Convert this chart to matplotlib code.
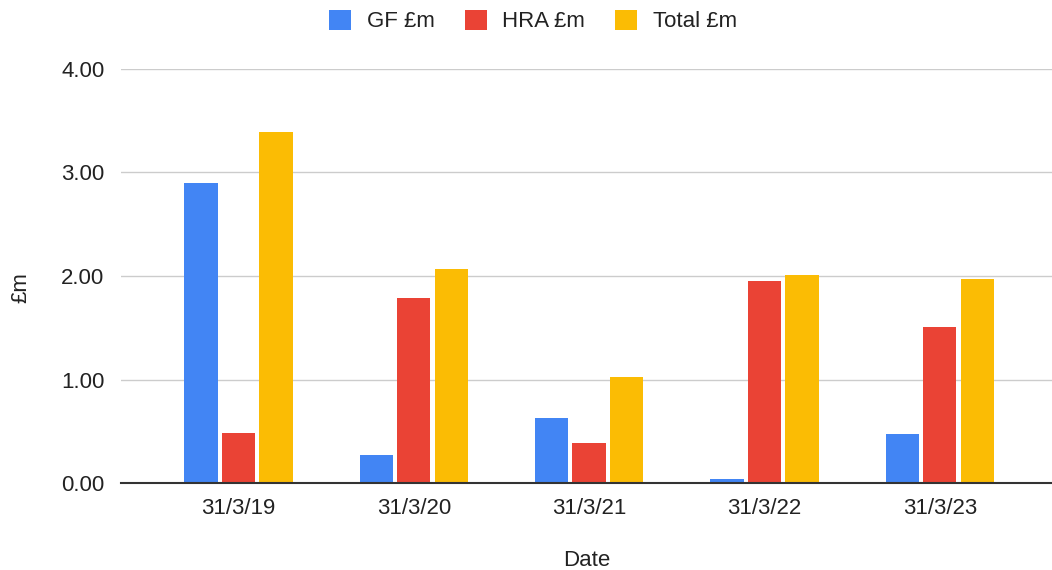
import matplotlib
matplotlib.use("Agg")
import matplotlib.pyplot as plt
import numpy as np

plt.rcParams['font.family'] = ['Liberation Sans', 'DejaVu Sans']

categories = ["31/3/19", "31/3/20", "31/3/21", "31/3/22", "31/3/23"]
gf = [2.90, 0.27, 0.63, 0.04, 0.47]
hra = [0.48, 1.79, 0.39, 1.95, 1.51]
total = [3.39, 2.07, 1.02, 2.01, 1.97]
series_names = ["GF £m", "HRA £m", "Total £m"]
colors = ["#4285F4", "#EA4335", "#FBBC04"]
yticks = [0, 1, 2, 3, 4]

fs = 16
fig = plt.figure(figsize=(10.52, 5.70), dpi=100)
ax = fig.add_axes([121/1052, 1-483/570, 1-121/1052, (483-69)/570])

x = np.arange(len(categories))
w = 0.19
pitch = 0.214
for i, (vals, name, c) in enumerate(zip([gf, hra, total], series_names, colors)):
    ax.bar(x + (i-1)*pitch, vals, width=w, color=c, label=name, zorder=3)

ax.set_xlim(-0.67, 4.64)
ax.set_ylim(0, 4)
ax.set_yticks(yticks)
ax.set_yticklabels([f"{v:.2f}" for v in yticks])
ax.set_xticks(x)
ax.set_xticklabels(categories)
ax.yaxis.grid(True, color="#cccccc", linewidth=1, zorder=0)
ax.tick_params(axis='both', length=0, labelsize=fs, colors="#222222")
ax.tick_params(axis='y', pad=12)
ax.tick_params(axis='x', pad=11)
for s in ["top", "right", "left"]:
    ax.spines[s].set_visible(False)
ax.spines["bottom"].set_color("#333333")
ax.spines["bottom"].set_linewidth(1.5)
ax.spines["bottom"].set_zorder(4)

ax.set_ylabel("£m", fontsize=fs, color="#222222")
ax.set_xlabel("Date", fontsize=fs, color="#222222")
ax.yaxis.set_label_coords((21-121)/931, (483-288)/414)
ax.xaxis.set_label_coords(0.5, (483-560)/414)
ax.xaxis.label.set_va("center")
ax.yaxis.label.set_va("center")

fig.legend(loc="center", bbox_to_anchor=(533/1052, 1-21/570), ncol=3, frameon=False,
           fontsize=fs, handlelength=1.0, handleheight=1.0, handletextpad=0.7,
           columnspacing=1.35, labelcolor="#222222")

fig.savefig("out.png", dpi=100)
